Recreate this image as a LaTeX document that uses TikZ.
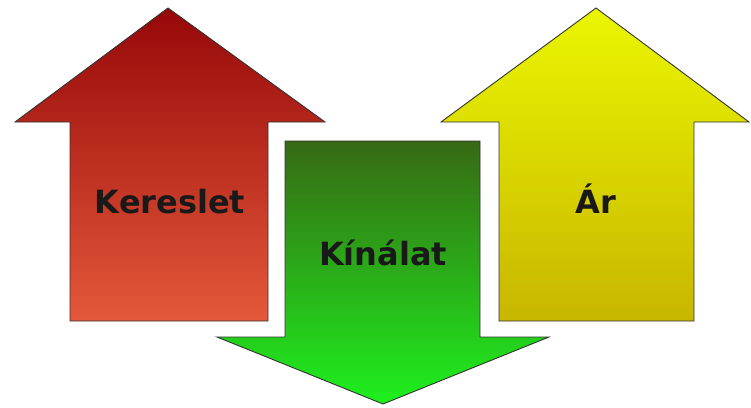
\documentclass[tikz,border=0pt]{standalone}
\usepackage{fontspec}
\newfontfamily\labelfont{DejaVu Sans}
\usepackage{tikz}

\definecolor{demandtop}{RGB}{150,8,8}
\definecolor{demandbot}{RGB}{228,88,58}
\definecolor{supplytop}{RGB}{55,105,20}
\definecolor{supplybot}{RGB}{30,240,30}
\definecolor{pricetop}{RGB}{234,246,0}
\definecolor{pricebot}{RGB}{200,182,0}

\begin{document}
\begin{tikzpicture}[x=1pt,y=-1pt,
    arrowbody/.style={draw=black!80, line width=0.9pt, line join=miter},
    arrowtext/.style={anchor=base, text=black!90,
      font=\labelfont\bfseries\fontsize{32}{36}\selectfont}]
    \useasboundingbox (0,0) rectangle (751,407);
    % up arrow, demand
    \shade[arrowbody, top color=demandtop, bottom color=demandbot]
      (168,8) -- (325,122) -- (268,122) -- (268,321)
      -- (70,321) -- (70,122) -- (15,122) -- cycle;
    % down arrow, supply
    \shade[arrowbody, top color=supplytop, bottom color=supplybot]
      (285,141) -- (480,141) -- (480,337) -- (549,337)
      -- (383,404) -- (217,337) -- (285,337) -- cycle;
    % up arrow, price
    \shade[arrowbody, top color=pricetop, bottom color=pricebot]
      (596,8) -- (749,122) -- (694,122) -- (694,321)
      -- (499,321) -- (499,122) -- (441,122) -- cycle;
    % labels
    \node[arrowtext] (demand) at (170,213) {Kereslet};
    \node[arrowtext] (supply) at (383,265) {Kínálat};
    \node[arrowtext] (price) at (596,213) {Ár};
\end{tikzpicture}
\end{document}
